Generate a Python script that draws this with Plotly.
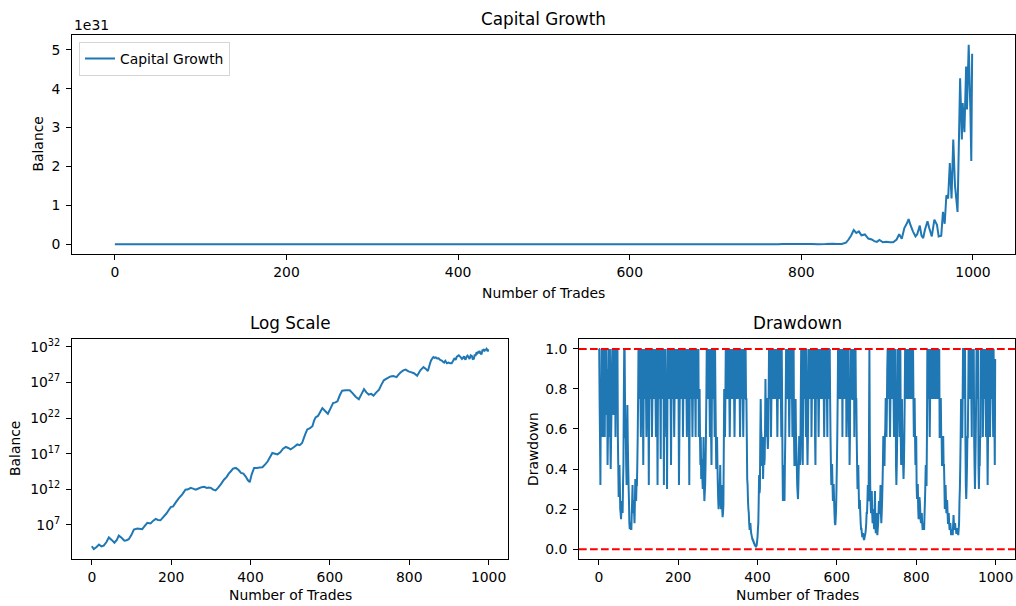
import numpy as np
import plotly.graph_objects as go

# ---------------------------------------------------------------------------
# Data
# ---------------------------------------------------------------------------
# Account balance path: trade number and log10(balance)
balance_trades = [
    0, 5, 12, 18, 24, 30, 37, 43, 50, 57, 63, 68, 75, 82, 88, 93, 100, 106,
    115, 127, 134, 140, 148, 155, 161, 167, 173, 180, 188, 194, 199, 205, 212,
    220, 228, 236, 243, 249, 255, 262, 270, 277, 283, 290, 295, 300, 306, 312,
    318, 325, 333, 340, 345, 350, 356, 363, 370, 376, 382, 388, 393, 398, 403,
    409, 416, 423, 430, 437, 443, 449, 455, 462, 468, 475, 482, 489, 495, 501,
    509, 518, 524, 530, 537, 543, 550, 556, 560, 564, 570, 576, 581, 588, 595,
    602, 608, 614, 619, 625, 631, 640, 650, 657, 665, 673, 680, 686, 692, 698,
    704, 710, 717, 724, 730, 736, 745, 753, 760, 768, 773, 778, 785, 791, 798,
    804, 812, 820, 828, 836, 842, 847, 852, 855, 858, 861, 864, 867, 870, 874,
    878, 882, 885, 888, 891, 895, 899, 903, 907, 911, 914, 917, 920, 923, 925,
    927, 930, 933, 935, 938, 940, 942, 944, 947, 949, 952, 955, 958, 960, 963,
    965, 967, 969, 971, 973, 975, 977, 979, 982, 985, 987, 988, 990, 992, 993,
    995, 997, 998, 999,
]
balance_log10 = [
    4.0, 3.6, 3.9, 4.25, 4.0, 4.1, 4.6, 5.25, 4.9, 4.5, 4.9, 5.5, 5.2, 4.8,
    4.85, 5.0, 5.6, 6.35, 6.5, 6.4, 6.9, 7.3, 7.2, 7.6, 7.85, 7.7, 7.65, 8.1,
    8.6, 9.1, 9.5, 9.6, 10.2, 10.8, 11.3, 11.95, 12.0, 12.2, 12.1, 11.95, 12.15,
    12.3, 12.35, 12.2, 12.25, 12.2, 11.95, 11.85, 12.2, 12.7, 13.35, 13.75,
    14.2, 14.5, 14.9, 15.0, 14.7, 14.3, 14.2, 13.8, 13.3, 13.0, 14.1, 15.0,
    15.0, 15.05, 15.1, 15.5, 15.9, 16.5, 17.1, 17.0, 16.9, 17.2, 17.7, 17.95,
    17.8, 17.6, 17.9, 18.3, 18.2, 18.5, 19.6, 20.4, 20.6, 20.85, 21.6, 22.1,
    22.3, 22.9, 23.4, 23.0, 22.6, 23.4, 24.1, 24.2, 24.35, 25.2, 25.85, 25.9,
    25.9, 25.5, 25.0, 24.65, 25.4, 26.05, 25.6, 25.3, 25.4, 25.15, 25.6, 26.0,
    26.7, 27.3, 27.6, 27.85, 27.9, 27.75, 28.1, 28.4, 28.7, 28.8, 28.55, 28.45,
    28.3, 27.95, 28.7, 29.15, 28.9, 28.6, 29.6, 30.08, 30.35, 30.56, 30.46,
    30.52, 30.36, 30.4, 30.16, 30.08, 29.9, 29.78, 30.04, 29.7, 29.78, 29.7,
    29.7, 30.08, 30.41, 30.15, 30.62, 30.73, 30.81, 30.7, 30.52, 30.3, 30.41,
    30.68, 30.34, 30.2, 30.57, 30.77, 30.62, 30.3, 30.8, 30.7, 30.3, 30.34,
    30.92, 30.72, 31.1, 31.07, 31.32, 31.07, 31.43, 31.18, 30.92, 31.63, 31.43,
    31.56, 31.46, 31.66, 31.54, 31.71, 31.53, 31.33, 31.69,
]

# Drawdown (balance relative to its running peak) for every trade, 20 per row
drawdown_trades = list(range(1000))
drawdown_values = [
    1, 1, 0.75, 0.56, 0.32, 0.75, 0.56, 1, 0.75, 0.56, 0.9, 1, 0.56, 0.9, 0.8, 0.56, 1, 0.75, 0.9, 1,
    0.67, 0.9, 0.42, 0.56, 0.75, 1, 0.56, 0.75, 1, 0.56, 0.4, 0.56, 0.7, 0.9, 1, 0.75, 0.9, 0.67, 1, 0.75,
    0.75, 1, 0.56, 0.75, 1, 0.75, 0.75, 1, 0.56, 0.42, 0.26, 0.32, 0.42, 0.32, 0.2, 0.18, 0.15, 0.2, 0.24, 0.2,
    0.18, 0.32, 0.42, 0.75, 1, 1, 0.75, 0.56, 0.56, 0.42, 0.32, 0.54, 0.72, 0.54, 0.42, 0.32, 0.24, 0.13, 0.1, 0.13,
    0.13, 0.1, 0.1, 0.18, 0.24, 0.32, 0.18, 0.24, 0.24, 0.18, 0.13, 0.24, 0.35, 0.26, 0.24, 0.32, 0.32, 0.42, 0.56, 0.75,
    1, 0.75, 1, 0.75, 1, 0.75, 0.56, 0.75, 1, 0.75, 1, 0.75, 0.42, 0.75, 1, 0.75, 1, 0.75, 1, 0.75,
    0.56, 0.75, 1, 0.75, 1, 0.75, 0.32, 0.75, 1, 0.75, 1, 0.75, 1, 0.75, 0.56, 0.75, 1, 0.75, 1, 0.75,
    1, 0.75, 1, 0.75, 0.56, 0.75, 1, 0.75, 0.32, 0.75, 1, 0.75, 1, 0.75, 1, 0.75, 0.45, 1, 0.75, 1,
    0.75, 1, 0.75, 1, 0.32, 0.75, 1, 0.75, 1, 0.75, 0.56, 0.75, 0.3, 0.75, 1, 0.75, 1, 0.75, 1, 0.75,
    1, 0.75, 0.42, 0.75, 1, 0.75, 1, 0.75, 1, 0.75, 0.56, 0.75, 1, 0.75, 1, 0.75, 1, 0.75, 1, 0.75,
    1, 0.75, 0.32, 0.56, 0.75, 1, 0.75, 1, 0.75, 1, 0.75, 1, 0.56, 0.75, 1, 0.75, 1, 0.75, 1, 0.75,
    1, 0.75, 0.56, 0.75, 1, 0.75, 1, 0.75, 0.32, 0.75, 1, 0.75, 1, 0.75, 1, 0.75, 0.56, 0.75, 1, 0.75,
    1, 0.75, 1, 0.75, 0.56, 1, 0.75, 1, 0.75, 1, 0.75, 1, 0.56, 0.75, 0.8, 0.56, 0.42, 0.56, 0.35, 0.42,
    0.45, 0.35, 0.3, 0.42, 0.56, 0.32, 0.24, 0.28, 0.32, 0.42, 0.56, 0.75, 1, 0.75, 1, 0.75, 1, 0.75, 1, 0.75,
    0.56, 1, 0.75, 0.56, 0.42, 0.75, 1, 0.75, 1, 0.75, 1, 0.75, 0.56, 1, 0.75, 0.56, 0.4, 0.42, 0.56, 0.42,
    0.32, 0.24, 0.2, 0.24, 0.26, 0.32, 0.42, 0.26, 0.2, 0.24, 0.32, 0.2, 0.16, 0.18, 0.22, 0.5, 0.8, 0.6, 0.56, 0.75,
    1, 0.75, 1, 0.75, 1, 0.75, 1, 0.75, 1, 0.75, 0.56, 0.75, 1, 0.75, 1, 0.75, 1, 0.75, 1, 0.75,
    1, 0.75, 0.56, 0.75, 1, 0.75, 1, 0.75, 1, 0.75, 1, 0.75, 1, 0.75, 1, 0.75, 0.56, 0.75, 1, 0.75,
    1, 0.75, 1, 0.75, 0.56, 0.75, 1, 0.75, 1, 0.75, 1, 0.75, 0.75, 0.56, 0.35, 0.32, 0.24, 0.2, 0.18, 0.13,
    0.1, 0.1, 0.13, 0.1, 0.08, 0.07, 0.06, 0.05, 0.05, 0.04, 0.04, 0.03, 0.03, 0.02, 0.02, 0.015, 0.01, 0.015, 0.02, 0.04,
    0.06, 0.1, 0.13, 0.24, 0.37, 0.28, 0.3, 0.56, 0.75, 0.6, 0.56, 0.42, 0.42, 0.56, 0.35, 0.45, 0.56, 0.42, 0.45, 0.6,
    0.85, 0.64, 0.56, 0.75, 0.75, 0.56, 0.5, 0.56, 0.75, 1, 0.75, 1, 0.75, 1, 0.56, 0.75, 1, 0.75, 1, 0.75,
    1, 0.75, 1, 0.75, 1, 0.75, 1, 0.75, 1, 0.75, 0.56, 0.75, 1, 0.75, 1, 0.75, 1, 0.75, 1, 0.75,
    0.56, 1, 0.75, 0.42, 0.24, 0.32, 0.42, 0.32, 0.24, 0.42, 0.56, 0.75, 1, 0.75, 1, 0.75, 1, 0.75, 1, 0.75,
    0.56, 0.75, 1, 0.75, 1, 0.75, 1, 0.75, 0.56, 1, 0.75, 1, 0.56, 0.42, 0.42, 0.56, 0.75, 0.56, 0.5, 0.42,
    0.32, 0.28, 0.25, 0.32, 0.42, 0.56, 0.56, 0.42, 0.45, 0.75, 1, 0.75, 1, 0.56, 0.42, 0.75, 1, 0.75, 1, 0.75,
    1, 0.75, 0.56, 1, 0.75, 0.56, 0.42, 0.56, 0.75, 1, 0.75, 1, 0.75, 1, 0.75, 1, 0.56, 0.75, 1, 0.75,
    1, 0.75, 1, 0.75, 1, 0.56, 0.42, 0.75, 1, 0.75, 1, 0.75, 1, 0.75, 0.56, 0.75, 1, 0.75, 1, 0.75,
    1, 0.75, 1, 0.75, 1, 0.75, 1, 0.75, 0.56, 0.75, 1, 0.75, 1, 0.75, 1, 0.75, 0.56, 1, 0.75, 1,
    1, 0.75, 1, 0.75, 0.56, 0.42, 0.32, 0.42, 0.42, 0.32, 0.24, 0.32, 0.32, 0.24, 0.18, 0.13, 0.12, 0.15, 0.2, 0.3,
    0.42, 0.56, 0.75, 1, 0.75, 1, 0.75, 1, 0.75, 1, 0.75, 1, 0.75, 1, 0.56, 1, 0.75, 1, 0.75, 1,
    0.75, 1, 0.75, 1, 0.56, 0.75, 1, 0.75, 1, 0.75, 0.56, 0.75, 0.42, 0.56, 1, 0.75, 1, 0.75, 1, 0.75,
    0.75, 1, 0.75, 1, 0.56, 1, 0.75, 1, 0.75, 0.75, 0.56, 0.42, 0.3, 0.32, 0.42, 0.3, 0.2, 0.24, 0.24, 0.18,
    0.13, 0.1, 0.1, 0.08, 0.06, 0.07, 0.08, 0.06, 0.05, 0.05, 0.06, 0.07, 0.08, 0.1, 0.13, 0.18, 0.18, 0.24, 0.32, 0.28,
    0.24, 0.6, 1, 0.56, 0.32, 0.24, 0.18, 0.24, 0.29, 0.18, 0.13, 0.18, 0.2, 0.13, 0.1, 0.18, 0.29, 0.13, 0.08, 0.13,
    0.18, 0.1, 0.07, 0.1, 0.13, 0.18, 0.24, 0.18, 0.18, 0.24, 0.32, 0.18, 0.13, 0.18, 0.24, 0.32, 0.42, 0.56, 0.56, 0.42,
    0.42, 0.56, 0.6, 0.75, 0.75, 0.56, 0.7, 0.9, 1, 0.75, 1, 0.75, 1, 0.75, 0.56, 0.75, 1, 0.75, 1, 0.75,
    1, 0.75, 1, 0.75, 0.56, 0.75, 1, 0.75, 1, 0.42, 0.32, 0.42, 0.56, 0.75, 1, 0.75, 1, 0.75, 0.56, 0.75,
    1, 0.56, 0.42, 0.56, 0.75, 0.56, 0.56, 0.42, 0.35, 0.42, 0.56, 0.75, 1, 0.75, 1, 0.75, 1, 0.75, 1, 0.75,
    1, 0.75, 1, 0.75, 1, 0.75, 1, 0.75, 1, 0.75, 1, 0.75, 1, 0.75, 0.56, 0.75, 0.75, 0.56, 0.42, 0.56,
    0.56, 0.32, 0.25, 0.32, 0.32, 0.2, 0.15, 0.2, 0.26, 0.24, 0.2, 0.15, 0.13, 0.15, 0.18, 0.13, 0.1, 0.1, 0.13, 0.1,
    0.1, 0.18, 0.24, 0.32, 0.42, 0.32, 0.32, 0.56, 1, 0.75, 1, 0.75, 1, 0.75, 0.56, 0.75, 1, 0.75, 1, 0.75,
    1, 0.75, 1, 0.75, 1, 0.75, 1, 0.75, 1, 0.75, 1, 0.75, 1, 0.75, 1, 0.75, 1, 0.75, 1, 0.56,
    0.56, 0.75, 0.75, 0.56, 0.56, 0.42, 0.42, 0.56, 0.56, 0.42, 0.42, 0.32, 0.2, 0.24, 0.32, 0.24, 0.18, 0.24, 0.24, 0.18,
    0.13, 0.13, 0.18, 0.13, 0.1, 0.1, 0.13, 0.1, 0.07, 0.08, 0.1, 0.08, 0.07, 0.12, 0.17, 0.13, 0.1, 0.1, 0.13, 0.1,
    0.1, 0.08, 0.08, 0.1, 0.1, 0.08, 0.07, 0.1, 0.13, 0.24, 0.3, 0.42, 0.56, 0.75, 0.67, 0.56, 0.56, 0.75, 1, 1,
    0.75, 1, 0.75, 1, 0.56, 0.32, 0.25, 0.32, 0.42, 0.56, 0.56, 0.75, 1, 0.75, 1, 0.75, 1, 0.75, 1, 0.75,
    0.56, 1, 0.75, 1, 0.75, 1, 0.56, 0.42, 0.3, 0.42, 0.56, 0.75, 1, 0.75, 1, 0.75, 1, 0.42, 0.3, 0.42,
    0.42, 0.56, 0.56, 1, 0.75, 1, 0.75, 1, 0.56, 0.75, 1, 0.75, 1, 0.75, 1, 0.75, 0.56, 0.75, 1, 0.56,
    0.32, 0.56, 0.75, 1, 0.75, 1, 0.56, 0.75, 1, 0.75, 1, 0.75, 1, 0.75, 0.56, 1, 0.75, 0.66, 0.42, 0.95,
]

trade_ticks = [0, 200, 400, 600, 800, 1000]
growth_ticks = [0, 1, 2, 3, 4, 5]          # multiples of 1e31
log_ticks = [7, 12, 17, 22, 27, 32]         # powers of ten
drawdown_ticks = [0.0, 0.2, 0.4, 0.6, 0.8, 1.0]

assert len(balance_trades) == len(balance_log10)
assert len(drawdown_trades) == len(drawdown_values), len(drawdown_values)

# ---------------------------------------------------------------------------
# Figure
# ---------------------------------------------------------------------------
W, H = 1016, 606
BLUE = "#1f77b4"
FONT = "DejaVu Sans"
TICK_SIZE = 13.9
TITLE_SIZE = 16.8
LINE_W = 2


def px_x(p):
    return p / W


def px_y(p):
    return 1 - p / H


balance = 10.0 ** np.array(balance_log10)


def padded(lo, hi, frac=0.05):
    span = hi - lo
    return [lo - frac * span, hi + frac * span]


x_range = padded(min(balance_trades), max(balance_trades))
growth_range = padded(float(balance.min()), float(balance.max()))
log_range = padded(float(min(balance_log10)), float(max(balance_log10)))
dd_range = padded(0.0, 1.0)

fig = go.Figure()

line_style = dict(color=BLUE, width=LINE_W, simplify=False)

fig.add_trace(go.Scatter(
    x=balance_trades, y=balance, mode="lines", name="Capital Growth",
    line=line_style, xaxis="x", yaxis="y", showlegend=True,
))
fig.add_trace(go.Scatter(
    x=balance_trades, y=balance, mode="lines", name="Balance",
    line=line_style, xaxis="x2", yaxis="y2", showlegend=False,
))
fig.add_trace(go.Scatter(
    x=drawdown_trades, y=drawdown_values, mode="lines", name="Drawdown",
    line=line_style, xaxis="x3", yaxis="y3", showlegend=False,
))

axis_style = dict(
    showline=True, mirror=True, linecolor="black", linewidth=1,
    ticks="outside", ticklen=5, tickwidth=1, tickcolor="black",
    showgrid=False, zeroline=False,
    tickfont=dict(family=FONT, size=TICK_SIZE, color="black"),
)
x_style = dict(axis_style, ticklabelstandoff=0)
y_style = dict(axis_style, ticklabelstandoff=3)

# Axes rectangles in pixels: (left, right, top, bottom)
top_box = (72, 1015, 33, 253)
left_box = (72, 508, 338, 559)
right_box = (579, 1015, 338, 559)


def dom(box):
    l, r, t, b = box
    return [px_x(l), px_x(r)], [px_y(b), px_y(t)]


dx1, dy1 = dom(top_box)
dx2, dy2 = dom(left_box)
dx3, dy3 = dom(right_box)

fig.update_layout(
    width=W, height=H, autosize=False,
    margin=dict(l=0, r=0, t=0, b=0),
    paper_bgcolor="white", plot_bgcolor="white",
    font=dict(family=FONT, size=TICK_SIZE, color="black"),
    xaxis=dict(domain=dx1, anchor="y", range=x_range,
               tickvals=trade_ticks, **x_style),
    yaxis=dict(domain=dy1, anchor="x", range=growth_range,
               tickvals=[v * 1e31 for v in growth_ticks],
               ticktext=[str(v) for v in growth_ticks], **y_style),
    xaxis2=dict(domain=dx2, anchor="y2", range=x_range,
                tickvals=trade_ticks, **x_style),
    yaxis2=dict(domain=dy2, anchor="x2", type="log", range=log_range,
                tickvals=[10.0 ** v for v in log_ticks],
                ticktext=[f"10<sup>{v}</sup>" for v in log_ticks],
                **y_style),
    xaxis3=dict(domain=dx3, anchor="y3", range=x_range,
                tickvals=trade_ticks, **x_style),
    yaxis3=dict(domain=dy3, anchor="x3", range=dd_range,
                tickvals=drawdown_ticks,
                ticktext=[f"{v:.1f}" for v in drawdown_ticks], **y_style),
    legend=dict(
        x=px_x(79), y=px_y(40), xanchor="left", yanchor="top",
        bgcolor="white", bordercolor="#d5d5d5", borderwidth=1,
        font=dict(family=FONT, size=TICK_SIZE, color="black"),
        itemwidth=30, tracegroupgap=0,
    ),
)

# Reference lines at 0 and 1 on the drawdown panel
for level in (0.0, 1.0):
    fig.add_shape(
        type="line", xref="x3 domain", yref="y3", x0=0, x1=1, y0=level, y1=level,
        line=dict(color="red", width=2, dash="7.7px,3.3px"),
    )


def label(text, x, y, size=TICK_SIZE, angle=0, xanchor="center"):
    fig.add_annotation(
        text=text, x=px_x(x), y=px_y(y), xref="paper", yref="paper",
        showarrow=False, textangle=angle, xanchor=xanchor, yanchor="middle",
        font=dict(family=FONT, size=size, color="black"),
    )


# Titles
label("Capital Growth", (top_box[0] + top_box[1]) / 2, 17, TITLE_SIZE)
label("Log Scale", (left_box[0] + left_box[1]) / 2, 322, TITLE_SIZE)
label("Drawdown", (right_box[0] + right_box[1]) / 2, 322, TITLE_SIZE)

# Axis labels
label("Number of Trades", (top_box[0] + top_box[1]) / 2, 292)
label("Number of Trades", (left_box[0] + left_box[1]) / 2, 595)
label("Number of Trades", (right_box[0] + right_box[1]) / 2, 595)
label("Balance", 38, (top_box[2] + top_box[3]) / 2, angle=-90)
label("Balance", 15, (left_box[2] + left_box[3]) / 2, angle=-90)
label("Drawdown", 533, (right_box[2] + right_box[3]) / 2, angle=-90)

# Offset text for the linear balance axis
label("1e31", 72, 23, xanchor="left")

fig.write_html("out.html")
